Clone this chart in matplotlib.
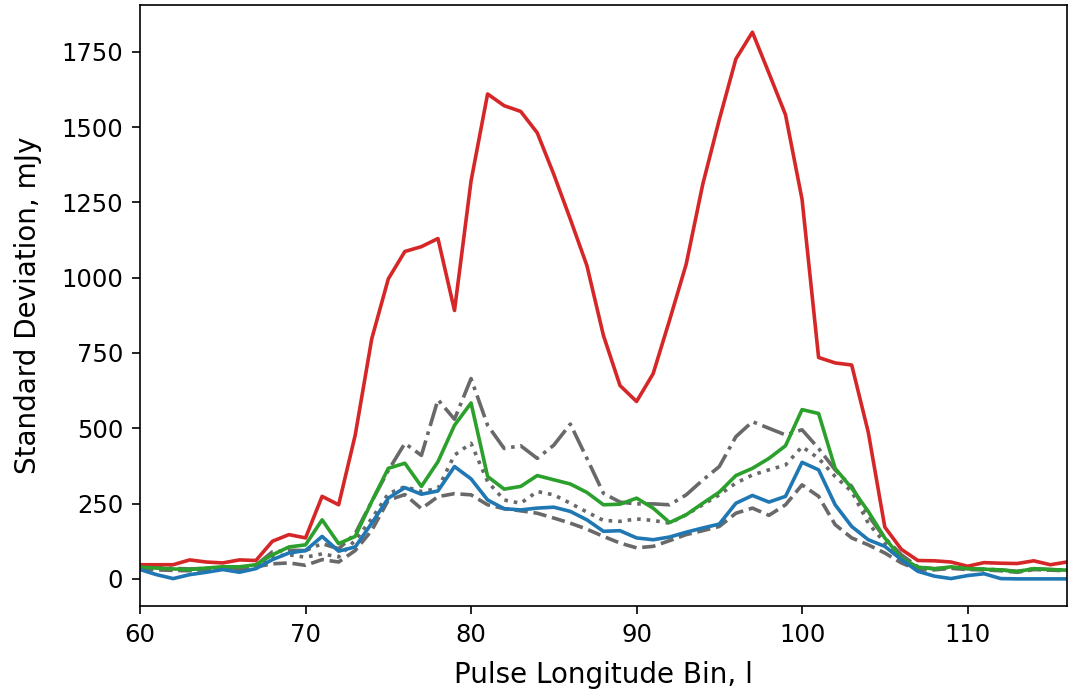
import numpy as np
import matplotlib
matplotlib.use("Agg")
import matplotlib.pyplot as plt

# pulse longitude bins
bins = np.arange(60, 117)

# standard deviation per bin, mJy
std_red = [47, 47, 47, 63, 56, 53, 63, 61, 125, 147,
           136, 274, 246, 477, 797, 996, 1087, 1103, 1130, 891,
           1321, 1610, 1571, 1552, 1481, 1343, 1194, 1040, 808, 642,
           589, 681, 860, 1045, 1310, 1525, 1726, 1815, 1679, 1541,
           1260, 735, 717, 710, 487, 172, 98, 61, 60, 56,
           42, 54, 52, 51, 60, 47, 56]
std_green = [39, 36, 33, 31, 36, 40, 40, 47, 80, 106,
             113, 196, 117, 141, 257, 367, 384, 307, 389, 510,
             584, 340, 298, 307, 343, 329, 315, 287, 246, 248,
             268, 235, 187, 213, 251, 288, 343, 367, 400, 442,
             562, 549, 367, 301, 224, 136, 69, 39, 33, 40,
             34, 32, 30, 24, 34, 31, 29]
std_blue = [31, 14, 1, 14, 22, 31, 22, 34, 64, 86,
            94, 141, 92, 106, 185, 268, 303, 281, 292, 373,
            332, 262, 233, 229, 235, 238, 224, 196, 158, 160,
            136, 130, 139, 155, 169, 182, 251, 277, 255, 274,
            387, 362, 246, 174, 130, 108, 64, 25, 9, 1,
            11, 17, 1, 0, 0, 0, 0]
std_dashdot = [40, 38, 35, 33, 35, 38, 35, 45, 90, 95,
               94, 117, 100, 150, 257, 360, 450, 410, 595, 530,
               665, 510, 433, 442, 400, 444, 514, 400, 284, 255,
               249, 249, 246, 279, 328, 373, 472, 522, 500, 478,
               495, 433, 362, 307, 210, 136, 80, 40, 34, 38,
               34, 32, 30, 25, 33, 31, 29]
std_dotted = [36, 34, 31, 30, 34, 37, 36, 42, 75, 80,
              72, 83, 73, 128, 200, 283, 306, 290, 300, 411,
              450, 323, 262, 251, 290, 279, 251, 222, 194, 191,
              199, 194, 185, 213, 246, 279, 318, 345, 362, 378,
              439, 400, 340, 290, 185, 120, 70, 36, 32, 37,
              33, 31, 29, 24, 33, 30, 28]
std_dashed = [33, 30, 28, 27, 31, 35, 32, 40, 50, 53,
              45, 64, 56, 94, 161, 261, 280, 233, 273, 283,
              279, 246, 233, 226, 218, 202, 185, 165, 141, 119,
              103, 108, 127, 147, 160, 174, 218, 235, 211, 246,
              312, 274, 180, 136, 113, 86, 53, 30, 30, 35,
              31, 30, 27, 22, 31, 29, 27]

plt.rcParams['font.size'] = 18

fig = plt.figure(figsize=(10.69, 6.96), dpi=100)
ax = fig.add_axes([0.131, 0.129, 0.867, 0.864])

lw = 2.6
gray = 'dimgray'
ax.plot(bins, std_dashdot, color=gray, ls='-.', lw=lw)
ax.plot(bins, std_dotted, color=gray, ls=':', lw=lw)
ax.plot(bins, std_dashed, color=gray, ls='--', lw=lw)
ax.plot(bins, std_red, color='tab:red', lw=lw)
ax.plot(bins, std_green, color='tab:green', lw=lw)
ax.plot(bins, std_blue, color='tab:blue', lw=lw)

ax.set_xlim(60, 116)
ax.set_yticks([0, 250, 500, 750, 1000, 1250, 1500, 1750])
ax.tick_params(labelsize=17.5, length=6, width=1.2, pad=6)
for s in ax.spines.values():
    s.set_linewidth(1.2)
ax.set_xlabel('Pulse Longitude Bin, l', fontsize=20, labelpad=10)
ax.set_ylabel('Standard Deviation, mJy', fontsize=20, labelpad=14)

fig.savefig('out.png', dpi=100)
